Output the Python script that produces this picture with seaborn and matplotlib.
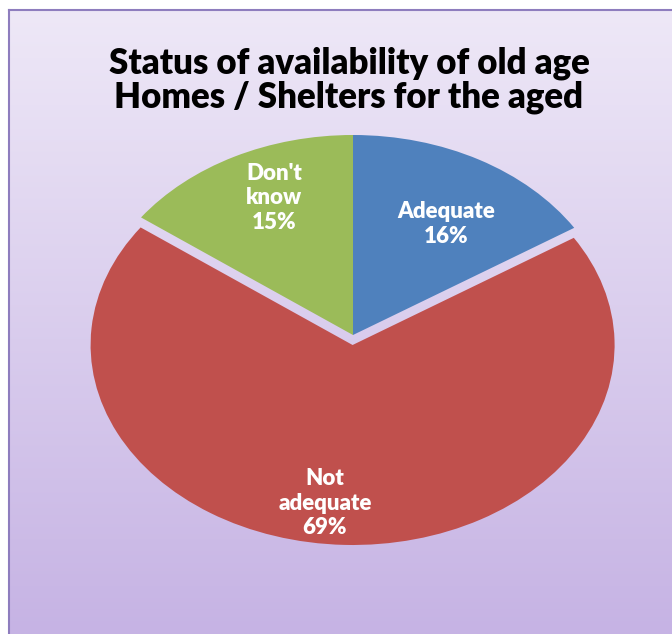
import numpy as np
import matplotlib
matplotlib.use("Agg")
import matplotlib.pyplot as plt
import seaborn as sns
from matplotlib.colors import LinearSegmentedColormap

# ---- data ----
categories = ["Adequate", "Not\nadequate", "Don't\nknow"]
values = [16, 69, 15]
colors = ["#4F81BD", "#C0504D", "#9BBB59"]
title = "Status of availability of old age\nHomes / Shelters for the aged"

sns.set_style("white")
plt.rcParams['font.family'] = ['Lato', 'DejaVu Sans']

W, H = 672, 634
fig = plt.figure(figsize=(W / 100, H / 100), dpi=100)
fig.patch.set_facecolor("white")

# background panel with vertical gradient
x0, y0 = 9, 10
bg = fig.add_axes([x0 / W, 0, 1 - x0 / W, 1 - y0 / H])
cmap = LinearSegmentedColormap.from_list("bg", ["#C6B3E4", "#EEE8F7"])
grad = np.linspace(0, 1, 256).reshape(-1, 1)
bg.imshow(grad, aspect="auto", cmap=cmap, origin="lower", extent=[0, 1, 0, 1])
bg.set_xlim(0, 1); bg.set_ylim(0, 1)
bg.set_xticks([]); bg.set_yticks([])
for s in ["top", "left"]:
    bg.spines[s].set_color("#8E7DBE"); bg.spines[s].set_linewidth(1.5)
for s in ["right", "bottom"]:
    bg.spines[s].set_visible(False)

fig.text(349 / W, 1 - 80 / H, title, ha="center", va="center",
         fontsize=25, fontweight="heavy", color="black", linespacing=1.02)

# pie axes (stretched to ellipse)
cx, cy, rx, ry = 353, 335, 262, 200
lim = 1.1
ax = fig.add_axes([(cx - rx * lim) / W, 1 - (cy + ry * lim) / H,
                   2 * rx * lim / W, 2 * ry * lim / H])
ax.set_facecolor("none")
wedges, _ = ax.pie(values, colors=colors, startangle=90, counterclock=False,
                   explode=[0, 0.05, 0], wedgeprops=dict(linewidth=0),
                   normalize=True)
ax.set_aspect("auto")
ax.set_xlim(-lim, lim); ax.set_ylim(-lim, lim)
ax.axis("off")

label_pos = [(0.355, 0.555), (-0.107, -0.84), (-0.302, 0.685)]
for cat, v, (lx, ly) in zip(categories, values, label_pos):
    ax.text(lx, ly, f"{cat}\n{v}%", ha="center", va="center", color="white",
            fontsize=16, fontweight="heavy", linespacing=1.2)

fig.savefig("out.png", dpi=100)
